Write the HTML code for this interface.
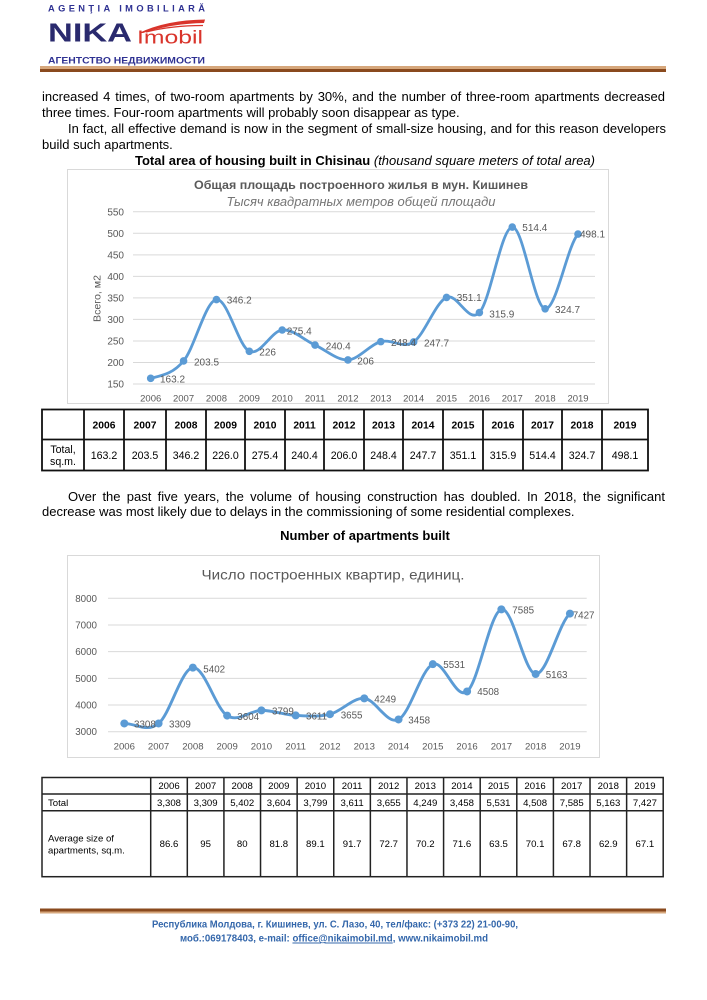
<!DOCTYPE html>
<html><head><meta charset="utf-8">
<style>
html,body{margin:0;padding:0;background:#fff;}
body{width:707px;height:1000px;position:relative;overflow:hidden;font-family:"Liberation Sans",sans-serif;}
.l{position:absolute;font-size:13px;line-height:16px;color:#000;white-space:normal;}
.j{text-align:justify;text-align-last:justify;}
.c{text-align:center;}
svg{position:absolute;left:0;top:0;}
</style></head>
<body>
<svg width="707" height="1000" viewBox="0 0 707 1000" xmlns="http://www.w3.org/2000/svg" font-family="Liberation Sans, sans-serif">
<!-- Header logo -->
<text x="48" y="11.7" font-size="9.3" font-weight="bold" fill="#2e3192" textLength="157" lengthAdjust="spacing">AGENŢIA IMOBILIARĂ</text>
<text x="48" y="41.7" font-size="25.6" font-weight="bold" fill="#2a2a6e" textLength="84" lengthAdjust="spacingAndGlyphs">NIKA</text>
<path d="M139,33 Q166,20 205,19.5 L204,23 Q172,23.5 143,33 Z" fill="#d9342b"/>
<path d="M146,32 Q172,25.5 203,25.5" stroke="#d9342b" stroke-width="1.2" fill="none"/>
<text x="137" y="43.3" font-size="18.5" fill="#d9342b" textLength="66" lengthAdjust="spacingAndGlyphs">Imobil</text>
<text x="48" y="63.5" font-size="9.6" font-weight="bold" fill="#2e3192" textLength="157" lengthAdjust="spacingAndGlyphs">АГЕНТСТВО НЕДВИЖИМОСТИ</text>
<rect x="40" y="66" width="626" height="3" fill="#d6a77c"/>
<rect x="40" y="69" width="626" height="3" fill="#8a4a1e"/>

<!-- Chart 1 -->
<rect x="67.5" y="169.5" width="541" height="234" fill="#fff" stroke="#d9d9d9" stroke-width="1"/>
<g stroke="#d9d9d9" stroke-width="1">
<line x1="133" x2="595" y1="384" y2="384"/>
<line x1="133" x2="595" y1="362.47" y2="362.47"/>
<line x1="133" x2="595" y1="340.94" y2="340.94"/>
<line x1="133" x2="595" y1="319.41" y2="319.41"/>
<line x1="133" x2="595" y1="297.88" y2="297.88"/>
<line x1="133" x2="595" y1="276.35" y2="276.35"/>
<line x1="133" x2="595" y1="254.82" y2="254.82"/>
<line x1="133" x2="595" y1="233.29" y2="233.29"/>
<line x1="133" x2="595" y1="211.76" y2="211.76"/>
</g>
<g font-size="10" fill="#595959" text-anchor="end">
<text x="124" y="387.5">150</text>
<text x="124" y="366">200</text>
<text x="124" y="344.4">250</text>
<text x="124" y="322.9">300</text>
<text x="124" y="301.4">350</text>
<text x="124" y="279.8">400</text>
<text x="124" y="258.3">450</text>
<text x="124" y="236.8">500</text>
<text x="124" y="215.3">550</text>
</g>
<g font-size="9.5" fill="#595959" text-anchor="middle">
<text x="150.7" y="401.5">2006</text>
<text x="183.57" y="401.5">2007</text>
<text x="216.44" y="401.5">2008</text>
<text x="249.31" y="401.5">2009</text>
<text x="282.18" y="401.5">2010</text>
<text x="315.05" y="401.5">2011</text>
<text x="347.92" y="401.5">2012</text>
<text x="380.79" y="401.5">2013</text>
<text x="413.66" y="401.5">2014</text>
<text x="446.53" y="401.5">2015</text>
<text x="479.4" y="401.5">2016</text>
<text x="512.27" y="401.5">2017</text>
<text x="545.14" y="401.5">2018</text>
<text x="578.01" y="401.5">2019</text>
</g>
<text transform="translate(100.5,298.5) rotate(-90)" font-size="10.5" fill="#595959" text-anchor="middle" textLength="47" lengthAdjust="spacingAndGlyphs">Всего, м2</text>
<text x="361" y="189" font-size="12" font-weight="bold" fill="#595959" text-anchor="middle" textLength="334" lengthAdjust="spacingAndGlyphs">Общая площадь построенного жилья в мун. Кишинев</text>
<text x="361" y="206" font-size="12.5" font-style="italic" fill="#757575" text-anchor="middle" textLength="269" lengthAdjust="spacingAndGlyphs">Тысяч квадратных метров общей площади</text>
<path fill="none" stroke="#5b9bd5" stroke-width="2.8" stroke-linejoin="round" stroke-linecap="round" d="M150.7,378.32 C161.66,375.43 172.61,374.09 183.57,360.96 C194.53,347.83 205.48,301.14 216.44,299.52 C227.40,297.91 238.35,346.19 249.31,351.27 C260.27,356.35 271.22,331.03 282.18,330.00 C293.14,328.97 304.09,340.09 315.05,345.07 C326.01,350.05 336.96,360.46 347.92,359.89 C358.88,359.32 369.83,344.62 380.79,341.63 C391.75,338.64 402.70,349.30 413.66,341.93 C424.62,334.56 435.57,302.31 446.53,297.41 C457.49,292.52 468.44,324.28 479.40,312.56 C490.36,300.84 501.31,227.72 512.27,227.09 C523.23,226.46 534.18,307.60 545.14,308.77 C556.10,309.94 567.05,246.55 578.01,234.11"/>
<g fill="#5b9bd5">
<circle cx="150.7" cy="378.32" r="3.8"/>
<circle cx="183.57" cy="360.96" r="3.8"/>
<circle cx="216.44" cy="299.52" r="3.8"/>
<circle cx="249.31" cy="351.27" r="3.8"/>
<circle cx="282.18" cy="330" r="3.8"/>
<circle cx="315.05" cy="345.07" r="3.8"/>
<circle cx="347.92" cy="359.89" r="3.8"/>
<circle cx="380.79" cy="341.63" r="3.8"/>
<circle cx="413.66" cy="341.93" r="3.8"/>
<circle cx="446.53" cy="297.41" r="3.8"/>
<circle cx="479.4" cy="312.56" r="3.8"/>
<circle cx="512.27" cy="227.09" r="3.8"/>
<circle cx="545.14" cy="308.77" r="3.8"/>
<circle cx="578.01" cy="234.11" r="3.8"/>
</g>
<g font-size="10" fill="#595959">
<text x="160" y="382.6">163.2</text>
<text x="194" y="365.3">203.5</text>
<text x="226.7" y="303.6">346.2</text>
<text x="259.3" y="355.3">226</text>
<text x="286.7" y="334.3">275.4</text>
<text x="325.7" y="349.3">240.4</text>
<text x="357.3" y="364.6">206</text>
<text x="391" y="345.9">248.4</text>
<text x="424" y="346.3">247.7</text>
<text x="456.7" y="300.9">351.1</text>
<text x="489.3" y="317.6">315.9</text>
<text x="522.3" y="230.9">514.4</text>
<text x="555" y="312.9">324.7</text>
<text x="580" y="237.6">498.1</text>
</g>

<!-- Table 1 -->
<g stroke="#111" stroke-width="1.8" fill="none">
<rect x="42" y="409.5" width="606" height="61"/>
<line x1="42" x2="648" y1="439.5" y2="439.5"/>
<line x1="84" x2="84" y1="409.5" y2="470.5"/>
<line x1="124" x2="124" y1="409.5" y2="470.5"/>
<line x1="166" x2="166" y1="409.5" y2="470.5"/>
<line x1="206" x2="206" y1="409.5" y2="470.5"/>
<line x1="245" x2="245" y1="409.5" y2="470.5"/>
<line x1="285" x2="285" y1="409.5" y2="470.5"/>
<line x1="324" x2="324" y1="409.5" y2="470.5"/>
<line x1="364" x2="364" y1="409.5" y2="470.5"/>
<line x1="403" x2="403" y1="409.5" y2="470.5"/>
<line x1="443" x2="443" y1="409.5" y2="470.5"/>
<line x1="483" x2="483" y1="409.5" y2="470.5"/>
<line x1="523" x2="523" y1="409.5" y2="470.5"/>
<line x1="562" x2="562" y1="409.5" y2="470.5"/>
<line x1="602" x2="602" y1="409.5" y2="470.5"/>
</g>
<g font-size="10.3" font-weight="bold" fill="#000" text-anchor="middle">
<text x="104" y="428.3">2006</text>
<text x="145" y="428.3">2007</text>
<text x="186" y="428.3">2008</text>
<text x="225.5" y="428.3">2009</text>
<text x="265" y="428.3">2010</text>
<text x="304.5" y="428.3">2011</text>
<text x="344" y="428.3">2012</text>
<text x="383.5" y="428.3">2013</text>
<text x="423" y="428.3">2014</text>
<text x="463" y="428.3">2015</text>
<text x="503" y="428.3">2016</text>
<text x="542.5" y="428.3">2017</text>
<text x="582" y="428.3">2018</text>
<text x="625" y="428.3">2019</text>
</g>
<g font-size="10.6" fill="#000" text-anchor="middle">
<text x="63" y="453">Total,</text>
<text x="63" y="465.2">sq.m.</text>
<text x="104" y="458.8">163.2</text>
<text x="145" y="458.8">203.5</text>
<text x="186" y="458.8">346.2</text>
<text x="225.5" y="458.8">226.0</text>
<text x="265" y="458.8">275.4</text>
<text x="304.5" y="458.8">240.4</text>
<text x="344" y="458.8">206.0</text>
<text x="383.5" y="458.8">248.4</text>
<text x="423" y="458.8">247.7</text>
<text x="463" y="458.8">351.1</text>
<text x="503" y="458.8">315.9</text>
<text x="542.5" y="458.8">514.4</text>
<text x="582" y="458.8">324.7</text>
<text x="625" y="458.8">498.1</text>
</g>

<!-- Chart 2 -->
<rect x="67.5" y="555.5" width="532" height="202" fill="#fff" stroke="#d9d9d9" stroke-width="1"/>
<g stroke="#d9d9d9" stroke-width="1">
<line x1="108" x2="586.7" y1="731.7" y2="731.7"/>
<line x1="108" x2="586.7" y1="705.02" y2="705.02"/>
<line x1="108" x2="586.7" y1="678.34" y2="678.34"/>
<line x1="108" x2="586.7" y1="651.66" y2="651.66"/>
<line x1="108" x2="586.7" y1="624.98" y2="624.98"/>
<line x1="108" x2="586.7" y1="598.3" y2="598.3"/>
</g>
<g font-size="9.8" fill="#595959" text-anchor="end">
<text x="97" y="735.2">3000</text>
<text x="97" y="708.5">4000</text>
<text x="97" y="681.8">5000</text>
<text x="97" y="655.2">6000</text>
<text x="97" y="628.5">7000</text>
<text x="97" y="601.8">8000</text>
</g>
<g font-size="9.6" fill="#595959" text-anchor="middle">
<text x="124.3" y="749.5">2006</text>
<text x="158.58" y="749.5">2007</text>
<text x="192.86" y="749.5">2008</text>
<text x="227.14" y="749.5">2009</text>
<text x="261.42" y="749.5">2010</text>
<text x="295.7" y="749.5">2011</text>
<text x="329.98" y="749.5">2012</text>
<text x="364.26" y="749.5">2013</text>
<text x="398.54" y="749.5">2014</text>
<text x="432.82" y="749.5">2015</text>
<text x="467.1" y="749.5">2016</text>
<text x="501.38" y="749.5">2017</text>
<text x="535.66" y="749.5">2018</text>
<text x="569.94" y="749.5">2019</text>
</g>
<text x="333" y="579.5" font-size="14" fill="#595959" text-anchor="middle" textLength="263" lengthAdjust="spacingAndGlyphs">Число построенных квартир, единиц.</text>
<path fill="none" stroke="#5b9bd5" stroke-width="2.9" stroke-linejoin="round" stroke-linecap="round" d="M124.30,723.48 C135.73,723.48 147.15,732.77 158.58,723.46 C170.01,714.15 181.43,668.92 192.86,667.61 C204.29,666.30 215.71,708.46 227.14,715.59 C238.57,722.72 249.99,710.41 261.42,710.38 C272.85,710.35 284.27,714.76 295.70,715.40 C307.13,716.04 318.55,717.06 329.98,714.22 C341.41,711.38 352.83,697.50 364.26,698.38 C375.69,699.26 387.11,725.18 398.54,719.48 C409.97,713.78 421.39,668.84 432.82,664.17 C444.25,659.50 455.67,700.60 467.10,691.47 C478.53,682.34 489.95,612.28 501.38,609.37 C512.81,606.46 524.23,673.29 535.66,673.99 C547.09,674.69 558.51,623.66 569.94,613.59"/>
<g fill="#5b9bd5">
<circle cx="124.3" cy="723.48" r="4"/>
<circle cx="158.58" cy="723.46" r="4"/>
<circle cx="192.86" cy="667.61" r="4"/>
<circle cx="227.14" cy="715.59" r="4"/>
<circle cx="261.42" cy="710.38" r="4"/>
<circle cx="295.7" cy="715.4" r="4"/>
<circle cx="329.98" cy="714.22" r="4"/>
<circle cx="364.26" cy="698.38" r="4"/>
<circle cx="398.54" cy="719.48" r="4"/>
<circle cx="432.82" cy="664.17" r="4"/>
<circle cx="467.1" cy="691.47" r="4"/>
<circle cx="501.38" cy="609.37" r="4"/>
<circle cx="535.66" cy="673.99" r="4"/>
<circle cx="569.94" cy="613.59" r="4"/>
</g>
<g font-size="9.8" fill="#595959">
<text x="134" y="727.5">3308</text>
<text x="169" y="727.5">3309</text>
<text x="203.3" y="672.5">5402</text>
<text x="237.3" y="720.2">3604</text>
<text x="272" y="714.5">3799</text>
<text x="306" y="719.5">3611</text>
<text x="340.7" y="718.5">3655</text>
<text x="374.3" y="702.5">4249</text>
<text x="408.3" y="723.5">3458</text>
<text x="443.3" y="667.8">5531</text>
<text x="477.3" y="695.2">4508</text>
<text x="512.3" y="613.5">7585</text>
<text x="545.7" y="677.8">5163</text>
<text x="572.7" y="618.5">7427</text>
</g>

<!-- Table 2 -->
<g stroke="#222" stroke-width="1.5" fill="none">
<rect x="42" y="777.5" width="621.2" height="99.2"/>
<line x1="42" x2="663.2" y1="794" y2="794"/>
<line x1="42" x2="663.2" y1="810.7" y2="810.7"/>
<line x1="150.7" x2="150.7" y1="777.5" y2="876.7"/>
<line x1="187.31" x2="187.31" y1="777.5" y2="876.7"/>
<line x1="223.92" x2="223.92" y1="777.5" y2="876.7"/>
<line x1="260.53" x2="260.53" y1="777.5" y2="876.7"/>
<line x1="297.14" x2="297.14" y1="777.5" y2="876.7"/>
<line x1="333.75" x2="333.75" y1="777.5" y2="876.7"/>
<line x1="370.36" x2="370.36" y1="777.5" y2="876.7"/>
<line x1="406.97" x2="406.97" y1="777.5" y2="876.7"/>
<line x1="443.58" x2="443.58" y1="777.5" y2="876.7"/>
<line x1="480.19" x2="480.19" y1="777.5" y2="876.7"/>
<line x1="516.8" x2="516.8" y1="777.5" y2="876.7"/>
<line x1="553.41" x2="553.41" y1="777.5" y2="876.7"/>
<line x1="590.02" x2="590.02" y1="777.5" y2="876.7"/>
<line x1="626.63" x2="626.63" y1="777.5" y2="876.7"/>
</g>
<g font-size="9.6" fill="#000" text-anchor="middle">
<text x="169" y="789.2">2006</text>
<text x="205.6" y="789.2">2007</text>
<text x="242.2" y="789.2">2008</text>
<text x="278.8" y="789.2">2009</text>
<text x="315.4" y="789.2">2010</text>
<text x="352.1" y="789.2">2011</text>
<text x="388.7" y="789.2">2012</text>
<text x="425.3" y="789.2">2013</text>
<text x="461.9" y="789.2">2014</text>
<text x="498.5" y="789.2">2015</text>
<text x="535.1" y="789.2">2016</text>
<text x="571.7" y="789.2">2017</text>
<text x="608.3" y="789.2">2018</text>
<text x="644.9" y="789.2">2019</text>
<text x="169" y="805.8">3,308</text>
<text x="205.6" y="805.8">3,309</text>
<text x="242.2" y="805.8">5,402</text>
<text x="278.8" y="805.8">3,604</text>
<text x="315.4" y="805.8">3,799</text>
<text x="352.1" y="805.8">3,611</text>
<text x="388.7" y="805.8">3,655</text>
<text x="425.3" y="805.8">4,249</text>
<text x="461.9" y="805.8">3,458</text>
<text x="498.5" y="805.8">5,531</text>
<text x="535.1" y="805.8">4,508</text>
<text x="571.7" y="805.8">7,585</text>
<text x="608.3" y="805.8">5,163</text>
<text x="644.9" y="805.8">7,427</text>
<text x="169" y="847.1">86.6</text>
<text x="205.6" y="847.1">95</text>
<text x="242.2" y="847.1">80</text>
<text x="278.8" y="847.1">81.8</text>
<text x="315.4" y="847.1">89.1</text>
<text x="352.1" y="847.1">91.7</text>
<text x="388.7" y="847.1">72.7</text>
<text x="425.3" y="847.1">70.2</text>
<text x="461.9" y="847.1">71.6</text>
<text x="498.5" y="847.1">63.5</text>
<text x="535.1" y="847.1">70.1</text>
<text x="571.7" y="847.1">67.8</text>
<text x="608.3" y="847.1">62.9</text>
<text x="644.9" y="847.1">67.1</text>
</g>
<g font-size="9.6" fill="#000">
<text x="48" y="805.8">Total</text>
<text x="48" y="841.7">Average size of</text>
<text x="48" y="853.4">apartments, sq.m.</text>
</g>

<!-- Footer -->
<rect x="40" y="908.5" width="626" height="3" fill="#8a4a1e"/>
<rect x="40" y="911.5" width="626" height="2" fill="#d6a77c"/>
<text x="335" y="927.5" font-size="9.8" font-weight="bold" fill="#3467ab" text-anchor="middle" textLength="366" lengthAdjust="spacingAndGlyphs">Республика Молдова, г. Кишинев, ул. С. Лазо, 40, тел/факс: (+373 22) 21-00-90,</text>
<text x="334" y="941.5" font-size="9.8" font-weight="bold" fill="#3467ab" text-anchor="middle" textLength="308" lengthAdjust="spacingAndGlyphs">моб.:069178403, e-mail: <tspan text-decoration="underline">office@nikaimobil.md</tspan>, www.nikaimobil.md</text>
</svg>

<div class="l j" style="top:88.5px;left:42px;width:623px;">increased 4 times, of two-room apartments by 30%, and the number of three-room apartments decreased</div>
<div class="l" style="top:104.5px;left:42px;width:623px;">three times. Four-room apartments will probably soon disappear as type.</div>
<div class="l j" style="top:120.5px;left:68px;width:598px;font-size:12.95px;">In fact, all effective demand is now in the segment of small-size housing, and for this reason developers</div>
<div class="l" style="top:136.5px;left:42px;width:623px;">build such apartments.</div>
<div class="l c" style="top:152.5px;left:100px;width:530px;"><b>Total area of housing built in Chisinau</b> <i>(thousand square meters of total area)</i></div>

<div class="l j" style="top:488.5px;left:68px;width:597px;">Over the past five years, the volume of housing construction has doubled. In 2018, the significant</div>
<div class="l" style="top:503.5px;left:42px;width:623px;">decrease was most likely due to delays in the commissioning of some residential complexes.</div>
<div class="l c" style="top:527.5px;left:165px;width:400px;"><b>Number of apartments built</b></div>
</body></html>
